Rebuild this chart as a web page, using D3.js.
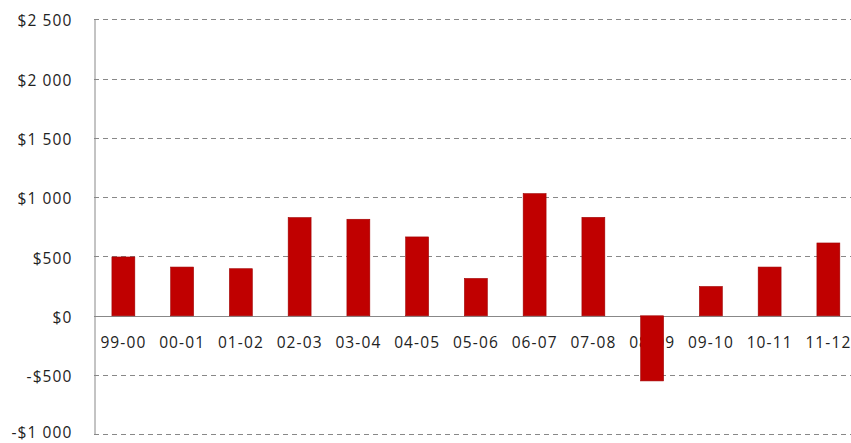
<!DOCTYPE html>
<html><head><meta charset="utf-8">
<script src="https://cdn.jsdelivr.net/npm/d3@7"></script>
<style>body{margin:0;background:#fff}svg{display:block}</style>
</head><body>
<script>
const categories = ["99-00","00-01","01-02","02-03","03-04","04-05","05-06","06-07","07-08","08-09","09-10","10-11","11-12"];
const values = [496, 411, 397, 828, 814, 665, 315, 1030, 830, -549, 247, 411, 614];
const tickValues = [-1000, -500, 0, 500, 1000, 1500, 2000, 2500];

const W = 851, H = 443;
const svg = d3.select("body").append("svg").attr("width", W).attr("height", H);
const x0 = 94, step = 58.75;
const x = d3.scaleBand().domain(categories).range([x0, x0 + step * categories.length]).paddingInner(0.61).paddingOuter(0.305);
const y = d3.scaleLinear().domain([-1000, 2500]).range([434.4, 19.3]);
const fmt = v => (v < 0 ? "-$" : "$") + d3.format(",")(Math.abs(v)).replace(/,/g, " ");
const FONT = "Open Sans, sans-serif", FS = 15.5, LS = 1.1;

// gridlines
svg.append("g").selectAll("line").data(tickValues.filter(v => v !== 0)).join("line")
  .attr("x1", x0).attr("x2", W).attr("y1", d => Math.round(y(d)) + 0.5).attr("y2", d => Math.round(y(d)) + 0.5)
  .attr("stroke", "#888").attr("stroke-width", 1).attr("stroke-dasharray", "5,4");

// y axis
const yAxis = d3.axisLeft(y).tickValues(tickValues).tickFormat(fmt).tickSize(0).tickPadding(22);
const gy = svg.append("g").attr("transform", `translate(${x0 + 0.5},0)`).call(yAxis);
gy.select(".domain").attr("stroke", "#888");
gy.selectAll("text").attr("font-family", FONT).attr("font-size", FS).attr("fill", "#222")
  .attr("letter-spacing", LS).attr("dy", d => d === -1000 ? "0.2em" : "0.42em");
gy.selectAll(".tick line").remove();

// x axis labels
const xAxis = d3.axisBottom(x).tickSize(0).tickPadding(21);
const gx = svg.append("g").attr("transform", `translate(0,${y(0)})`).call(xAxis);
gx.select(".domain").remove();
gx.selectAll("text").attr("font-family", FONT).attr("font-size", FS).attr("fill", "#222").attr("letter-spacing", LS);

// zero line
svg.append("line").attr("x1", x0).attr("x2", W).attr("y1", Math.round(y(0)) + 0.5).attr("y2", Math.round(y(0)) + 0.5)
  .attr("stroke", "#888").attr("stroke-width", 1);

// bars
svg.append("g").selectAll("rect").data(categories).join("rect")
  .attr("x", d => x(d)).attr("width", x.bandwidth())
  .attr("y", (d, i) => y(Math.max(0, values[i])))
  .attr("height", (d, i) => Math.abs(y(values[i]) - y(0)))
  .attr("fill", "#c00000").attr("stroke", "#a00000").attr("stroke-width", 0.6);
</script>
</body></html>
